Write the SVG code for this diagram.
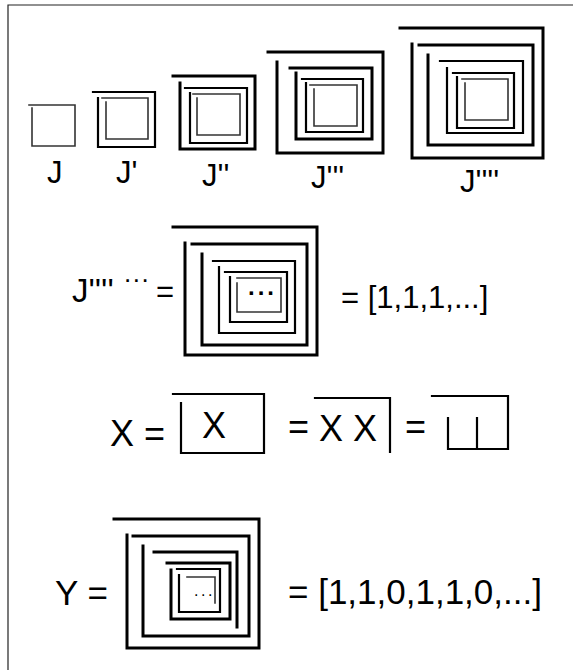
<svg xmlns="http://www.w3.org/2000/svg" width="573" height="670" viewBox="0 0 573 670">
<style>
text{font-family:"Liberation Sans",Arial,sans-serif;fill:#000}
.l{font-size:31px}
.m{font-size:36px}
.y{font-size:35px}
path{fill:none;stroke:#000;stroke-linecap:square}
.w3{stroke-width:3}
.w2{stroke-width:2.2}
.w1{stroke-width:1.6;stroke:#333}
.fr{stroke-width:1.2;stroke:#222}
</style>
<rect width="573" height="670" fill="#fff"/>
<path class="fr" d="M8,670 V5 H573"/>
<g id="J0"><path class="w1" d="M29,105 H75 V146 H32 V108"/><text class="l" x="47" y="183">J</text></g>
<g id="J1"><path class="w2" d="M93,92 H155 V147 H98 V98"/><path class="w1" d="M102,98 H148 V139 H106 V102"/><text class="l" x="116" y="183">J'</text></g>
<g id="J2"><path class="w3" d="M173,76 H255 V149 H180 V83"/><path class="w2" d="M185,88 H247 V143 H190 V93"/><path class="w1" d="M193,94 H240 V135 H197 V98"/><text class="l" x="202" y="186">J''</text></g>
<g id="J3"><path class="w3" d="M268,52 H383 V153 H277 V62"/><path class="w3" d="M290,68 H372 V139 H296 V73"/><path class="w2" d="M302,79 H363 V132 H306 V83"/><path class="w1" d="M310,85 H357 V126 H314 V89"/><text class="l" x="311" y="188">J'''</text></g>
<g id="J4"><path class="w3" d="M400,28 H543 V158 H412 V44"/><path class="w3" d="M419,45 H533 V145 H428 V55"/><path class="w2" d="M440,61 H523 V133 H447 V68"/><path class="w2" d="M453,73 H514 V128 H457 V77"/><path class="w1" d="M462,79 H508 V120 H465 V83"/><text class="l" x="460" y="192">J''''</text></g>
<g id="Jinf"><text x="72" y="302" font-size="33">J''''</text><text x="124" y="282" font-size="26" letter-spacing="1.5">...</text><text class="l" x="156" y="302">=</text>
<path class="w3" d="M173,227 H317 V355 H185 V243"/><path class="w3" d="M192,244 H307 V345 H202 V254"/><path class="w2" d="M213,261 H295 V333 H219 V267"/><path class="w2" d="M225,272 H287 V322 H230 V277"/><path class="w1" d="M237,278 H281 V312 H237 V283"/>
<text x="248" y="295" font-size="24" font-weight="bold" letter-spacing="3">...</text>
<text class="l" x="341" y="308">= [1,1,1,...]</text></g>
<g id="X"><text class="m" x="110" y="446">X =</text><path class="w2" d="M173,394 H264 V453 H181 V403"/><text class="m" x="202" y="438">X</text>
<text class="m" x="288" y="439">=</text><text class="m" x="319" y="441">X X</text><path class="w2" d="M315,398 H390 V452"/>
<text class="m" x="405" y="439">=</text><path class="w2" d="M432,396 H508 V449 H448 V418 M477,418 V449"/></g>
<g id="Y"><text class="y" x="55" y="605">Y =</text>
<path class="w3" d="M114,519 H259 V648 H127 V535"/><path class="w3" d="M133,536 H249 V636 H143 V546"/><path class="w3" d="M154,552 H237 V627"/><path class="w3" d="M167,563 H230 V619 H171 V570"/><path class="w2" d="M177,569 H220 V612 H179 V575"/><path class="w1" d="M187,577 H215 V603"/>
<text x="194" y="596" font-size="16" letter-spacing="2.5">...</text>
<text class="y" x="288" y="604">= [1,1,0,1,1,0,...]</text></g>
</svg>
